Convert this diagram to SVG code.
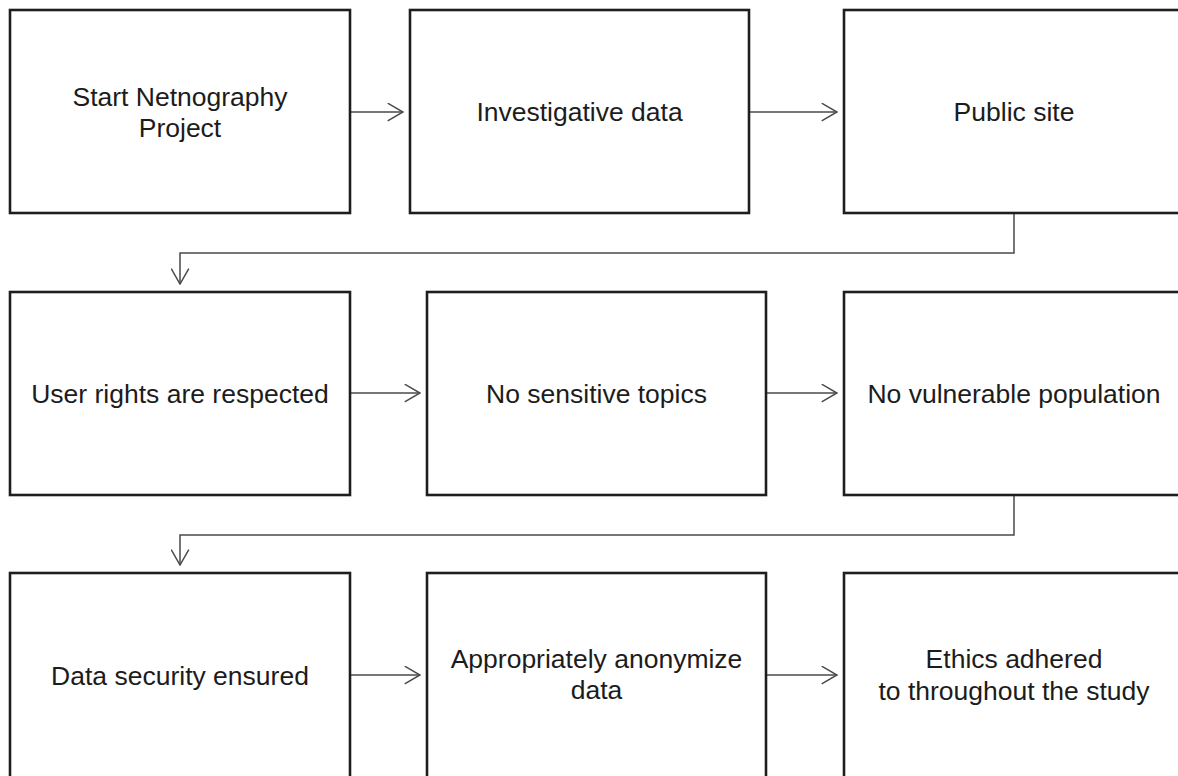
<svg xmlns="http://www.w3.org/2000/svg" width="1178" height="776" viewBox="0 0 1178 776">
<style>
.box{fill:#fff;stroke:#1e1e1e;stroke-width:2.6}
.lbl{font-family:"Liberation Sans",Arial,sans-serif;font-size:26.5px;fill:#1c1c1c;text-anchor:middle}
.con{fill:none;stroke:#4a4a4a;stroke-width:1.5}
</style>
<defs>
<marker id="arr" viewBox="0 0 17 19" refX="16" refY="9.5" markerWidth="17" markerHeight="19" markerUnits="userSpaceOnUse" orient="auto">
<path d="M0.7,0.7 L16,9.5 L0.7,18.3" fill="none" stroke="#4a4a4a" stroke-width="1.5"/>
</marker>
</defs>
<rect width="1178" height="776" fill="#fff"/>
<g id="connectors">
<line class="con" x1="350" y1="112" x2="403" y2="112" marker-end="url(#arr)"/>
<line class="con" x1="749" y1="112" x2="837" y2="112" marker-end="url(#arr)"/>
<path class="con" d="M1014,213 V253 H180 V284" marker-end="url(#arr)"/>
<line class="con" x1="350" y1="393" x2="420" y2="393" marker-end="url(#arr)"/>
<line class="con" x1="766" y1="393" x2="837" y2="393" marker-end="url(#arr)"/>
<path class="con" d="M1014,495 V535 H180 V565" marker-end="url(#arr)"/>
<line class="con" x1="350" y1="675" x2="420" y2="675" marker-end="url(#arr)"/>
<line class="con" x1="766" y1="675" x2="837" y2="675" marker-end="url(#arr)"/>
</g>
<g id="n1"><rect class="box" x="10" y="10" width="340" height="203"/>
<text class="lbl" x="180" y="106">Start Netnography</text><text class="lbl" x="180" y="137">Project</text></g>
<g id="n2"><rect class="box" x="410" y="10" width="339" height="203"/>
<text class="lbl" x="579.5" y="121">Investigative data</text></g>
<g id="n3"><rect class="box" x="844" y="10" width="340" height="203"/>
<text class="lbl" x="1014" y="121">Public site</text></g>
<g id="n4"><rect class="box" x="10" y="292" width="340" height="203"/>
<text class="lbl" x="180" y="403">User rights are respected</text></g>
<g id="n5"><rect class="box" x="427" y="292" width="339" height="203"/>
<text class="lbl" x="596.5" y="403">No sensitive topics</text></g>
<g id="n6"><rect class="box" x="844" y="292" width="340" height="203"/>
<text class="lbl" x="1014" y="403">No vulnerable population</text></g>
<g id="n7"><rect class="box" x="10" y="573" width="340" height="220"/>
<text class="lbl" x="180" y="685">Data security ensured</text></g>
<g id="n8"><rect class="box" x="427" y="573" width="339" height="220"/>
<text class="lbl" x="596.5" y="668">Appropriately anonymize</text><text class="lbl" x="596.5" y="699">data</text></g>
<g id="n9"><rect class="box" x="844" y="573" width="340" height="220"/>
<text class="lbl" x="1014" y="668">Ethics adhered</text><text class="lbl" x="1014" y="700">to throughout the study</text></g>
</svg>
